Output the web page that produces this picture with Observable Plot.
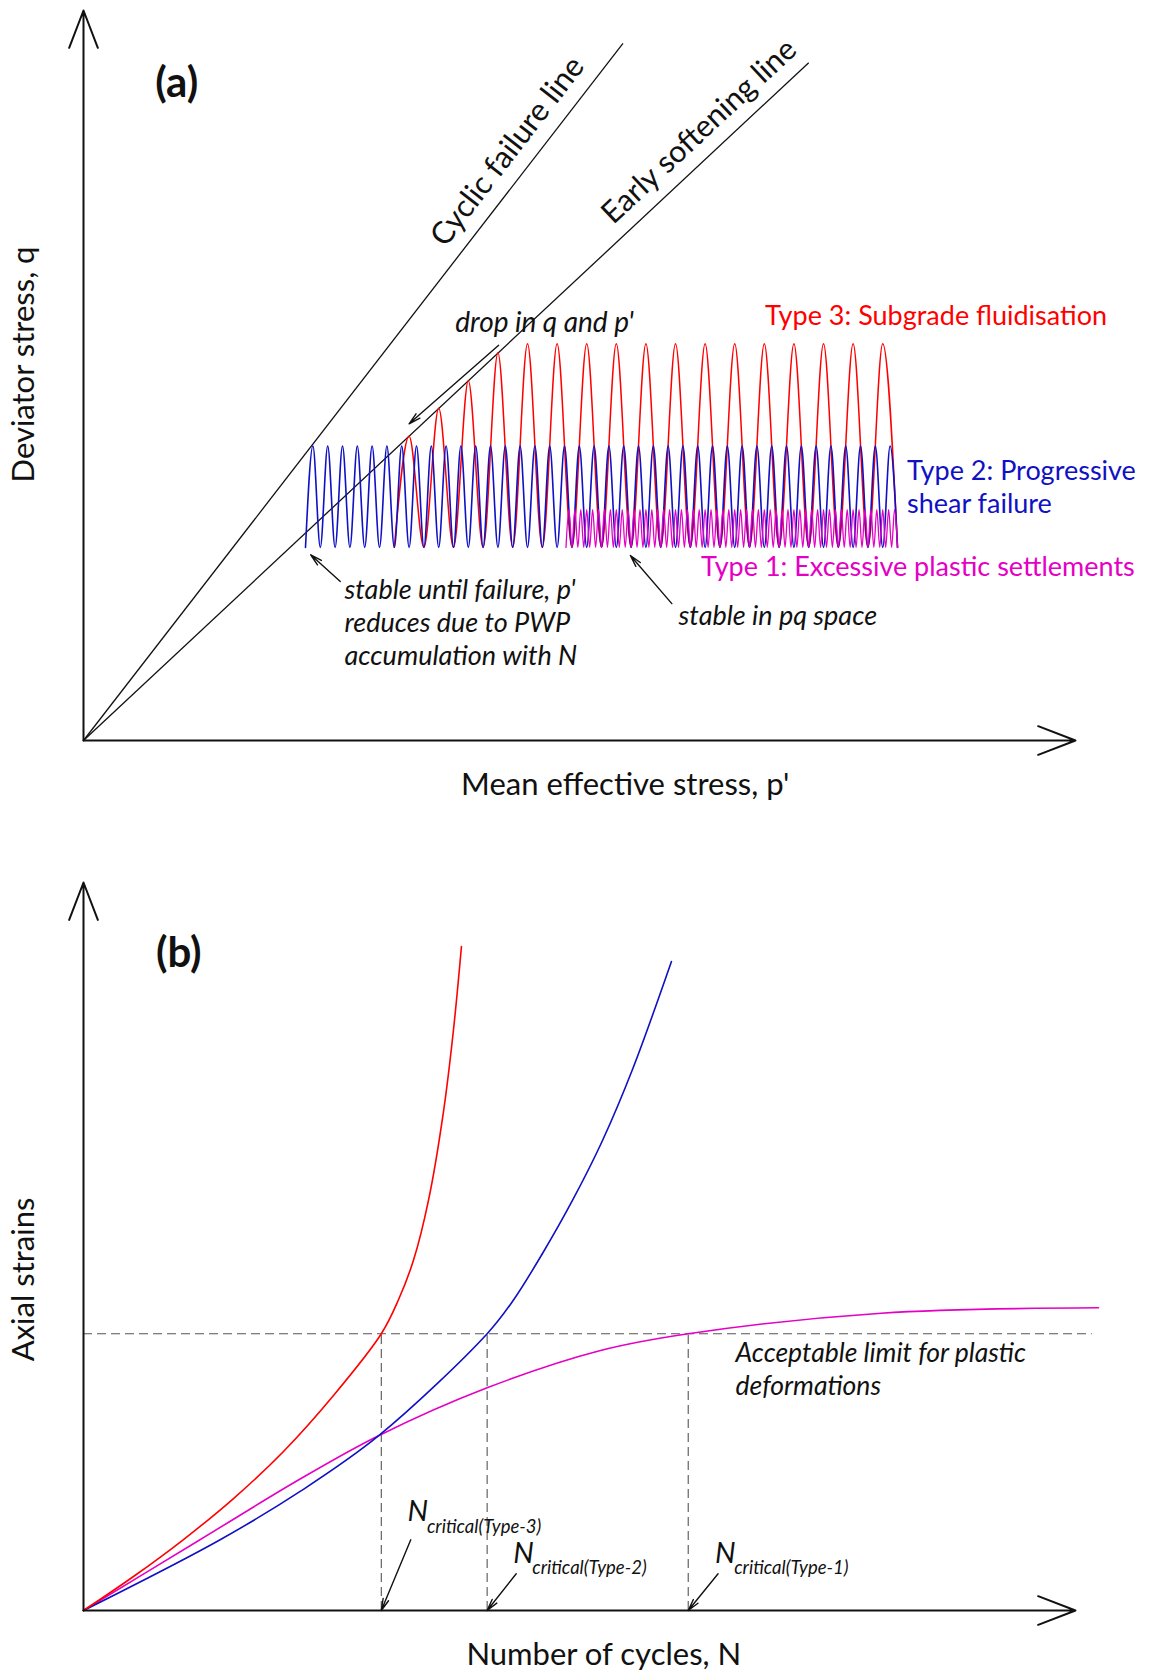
<!DOCTYPE html>
<html><head><meta charset="utf-8">
<script src="https://cdn.jsdelivr.net/npm/d3@7"></script>
<script src="https://cdn.jsdelivr.net/npm/@observablehq/plot@0.6"></script>
<style>body{margin:0;background:#fff;} #chart svg{display:block;}</style>
</head><body><div id="chart"></div>
<script>
// ---------------- DATA: panel (a) p'-q space (arbitrary units) ----------------
const failureLines = [
  {name: "Cyclic failure line", p: 72.9, q: 94.2},
  {name: "Early softening line", p: 98.0, q: 91.6}
];
// Type 2 (progressive shear failure) : turning points of the stress path
const blueX = [30,31,32,33,34,35,36,37,38,39,40,41,42,43,44,45,46,47,48,49,50,51,52,53,54,55,56,57,58,59,60,61,62,63,64,65,66,67,68,69,70,71,72,73,74,75,76,77,78,79,80,81,82,83,84,85,86,87,88,89,90,91,92,93,94,95,96,97,98,99,100,101,102,103,104,105,106,107,108,109,110];
const blueLow = 26.1, blueHigh = 39.8;
// Type 3 (subgrade fluidisation)
const redX = [42,44,46,48,50,52,54,56,58,60,62,64,66,68,70,72,74,76,78,80,82,84,86,88,90,92,94,96,98,100,102,104,106,108,110];
const redLow = 26.1;
const redPeaks = [41.1,44.9,48.6,52.4,53.6,53.6,53.6,53.6,53.6,53.6,53.6,53.6,53.6,53.6,53.6,53.6,53.6];
// Type 1 (excessive plastic settlements)
const magentaX = [65.2,65.6,66,66.4,66.8,67.2,67.6,68,68.4,68.8,69.2,69.6,70,70.4,70.8,71.2,71.6,72,72.4,72.8,73.2,73.6,74,74.4,74.8,75.2,75.6,76,76.4,76.8,77.2,77.6,78,78.4,78.8,79.2,79.6,80,80.4,80.8,81.2,81.6,82,82.4,82.8,83.2,83.6,84,84.4,84.8,85.2,85.6,86,86.4,86.8,87.2,87.6,88,88.4,88.8,89.2,89.6,90,90.4,90.8,91.2,91.6,92,92.4,92.8,93.2,93.6,94,94.4,94.8,95.2,95.6,96,96.4,96.8,97.2,97.6,98,98.4,98.8,99.2,99.6,100,100.4,100.8,101.2,101.6,102,102.4,102.8,103.2,103.6,104,104.4,104.8,105.2,105.6,106,106.4,106.8,107.2,107.6,108,108.4,108.8,109.2,109.6,110];
const magentaLow = 26.1, magentaHigh = 31.2;
const axisEndA = {p: 134.05, q: 98.65};

// ---------------- DATA: panel (b) N - axial strain ----------------
const redCurveN   = [0,5.04,10.08,15.12,20.16,25.20,30.02,31.72,33.27,34.78,36.29,37.30,38.10];
const redCurveE   = [0,4.67,9.75,15.38,21.84,29.53,38.01,42.58,48.13,56.37,68.54,79.81,91.21];
const blueCurveN  = [0,13.64,21.88,29.79,40.69,43.31,46.27,49.29,52.32,55.34,59.27];
const blueCurveE  = [0,9.62,16.39,24.04,38.01,42.58,49.04,56.32,64.56,74.31,89.15];
const magCurveN   = [0,11.62,21.88,29.79,40.69,52.12,60.96,80.41,102.32];
const magCurveE   = [0,9.62,18.09,24.04,30.59,35.71,38.01,40.84,41.58];
const acceptableLimit = 38.01;
const limitEndN = 101.7;
const criticalN = [30.02, 40.69, 60.96];
const criticalNames = ["critical(Type-3)", "critical(Type-2)", "critical(Type-1)"];
const axisEndB = {n: 100, e: 100};

// ---------------- STYLE ----------------
const FONT = "Lato, 'Open Sans', 'DejaVu Sans', sans-serif";
const RED = "#ff0000", BLUE = "#1010c4", MAG = "#e400c4", INK = "#111";

const wave = (xs, low, highs) => xs.map((p, i) => ({p, q: i % 2 === 0 ? low : (Array.isArray(highs) ? highs[(i - 1) / 2] : highs)}));
const curve = (ns, es) => ns.map((n, i) => ({n, e: es[i]}));

const txt = (d, o) => Plot.text([d], {x: "x", y: "y", text: "t", fontFamily: FONT, fill: INK, ...o});

// ---------------- PANEL (a) ----------------
const figA = Plot.plot({
  width: 1150, height: 820, margin: 0,
  x: {domain: [0, axisEndA.p], range: [83, 1075], axis: null},
  y: {domain: [0, 100], range: [740, 0], axis: null},
  style: {background: "white", fontFamily: FONT},
  marks: [
    Plot.link(failureLines, {x1: 0, y1: 0, x2: "p", y2: "q", stroke: INK, strokeWidth: 1.3}),
    Plot.line(wave(redX, redLow, redPeaks), {x: "p", y: "q", stroke: RED, strokeWidth: 1.5, curve: "monotone-x"}),
    Plot.line(wave(blueX, blueLow, blueHigh), {x: "p", y: "q", stroke: BLUE, strokeWidth: 1.6, curve: "monotone-x"}),
    Plot.line(wave(magentaX, magentaLow, magentaHigh), {x: "p", y: "q", stroke: MAG, strokeWidth: 1.3, curve: "monotone-x"}),
    Plot.arrow([{x1: 0, y1: 0, x2: 0, y2: axisEndA.q}, {x1: 0, y1: 0, x2: axisEndA.p, y2: 0}],
      {x1: "x1", y1: "y1", x2: "x2", y2: "y2", stroke: INK, strokeWidth: 2, headLength: 30, headAngle: 42}),
    Plot.arrow([
        {x1: 56.1, y1: 53.4, x2: 44.0, y2: 42.8},
        {x1: 34.7, y1: 21.5, x2: 30.7, y2: 25.1},
        {x1: 79.5, y1: 18.5, x2: 73.9, y2: 25.0}
      ], {x1: "x1", y1: "y1", x2: "x2", y2: "y2", stroke: INK, strokeWidth: 1.4, headLength: 13, headAngle: 28}),
    txt({t: "(a)", x: 12.6, y: 88.78}, {fontSize: 42, fontWeight: "bold", textAnchor: "middle", lineAnchor: "middle"}),
    txt({t: failureLines[0].name, x: 57.3, y: 79.6}, {fontSize: 31, rotate: -52.3, textAnchor: "middle", lineAnchor: "middle"}),
    txt({t: failureLines[1].name, x: 83.2, y: 82.3}, {fontSize: 30.5, rotate: -43.1, textAnchor: "middle", lineAnchor: "middle"}),
    txt({t: "drop in q and p'", x: 62.3, y: 56.35}, {fontSize: 28, fontStyle: "italic", textAnchor: "middle", lineAnchor: "middle"}),
    txt({t: "stable until failure, p'", x: 35.27, y: 20.34}, {fontSize: 27, fontStyle: "italic", textAnchor: "start", lineAnchor: "middle"}),
    txt({t: "reduces due to PWP", x: 35.27, y: 15.88}, {fontSize: 27, fontStyle: "italic", textAnchor: "start", lineAnchor: "middle"}),
    txt({t: "accumulation with N", x: 35.27, y: 11.41}, {fontSize: 27, fontStyle: "italic", textAnchor: "start", lineAnchor: "middle"}),
    txt({t: "stable in pq space", x: 80.41, y: 16.76}, {fontSize: 27, fontStyle: "italic", textAnchor: "start", lineAnchor: "middle"}),
    txt({t: "Type 3: Subgrade fluidisation", x: 92.09, y: 57.3}, {fontSize: 27, fill: RED, textAnchor: "start", lineAnchor: "middle"}),
    txt({t: "Type 2: Progressive", x: 111.28, y: 36.35}, {fontSize: 27, fill: BLUE, textAnchor: "start", lineAnchor: "middle"}),
    txt({t: "shear failure", x: 111.28, y: 31.89}, {fontSize: 27, fill: BLUE, textAnchor: "start", lineAnchor: "middle"}),
    txt({t: "Type 1: Excessive plastic settlements", x: 83.45, y: 23.38}, {fontSize: 27, fill: MAG, textAnchor: "start", lineAnchor: "middle"}),
    txt({t: "Deviator stress, q", x: -8.04, y: 50.81}, {fontSize: 31, rotate: -90, textAnchor: "middle", lineAnchor: "middle"}),
    txt({t: "Mean effective stress, p'", x: 73.2, y: -6.08}, {fontSize: 31, textAnchor: "middle", lineAnchor: "middle"})
  ]
});

// ---------------- PANEL (b) ----------------
const nLabel = [
  {nx: 32.66, ny: 12.36, sx: 34.62, sy: 10.71},
  {nx: 43.31, ny: 6.46, sx: 45.24, sy: 4.95},
  {nx: 63.67, ny: 6.46, sx: 65.59, sy: 4.95}
];
const nArrows = [
  {x1: 32.99, y1: 9.71, x2: criticalN[0], y2: 0},
  {x1: 43.62, y1: 5.04, x2: criticalN[1], y2: 0},
  {x1: 63.97, y1: 5.04, x2: criticalN[2], y2: 0}
];
const figB = Plot.plot({
  width: 1150, height: 855, margin: 0,
  x: {domain: [0, axisEndB.n], range: [83, 1075], axis: null},
  y: {domain: [0, axisEndB.e], range: [790, 62], axis: null},
  style: {background: "white", fontFamily: FONT},
  marks: [
    Plot.ruleY([acceptableLimit], {x1: 0, x2: limitEndN, stroke: "#555", strokeWidth: 1.1, strokeDasharray: "9,5"}),
    Plot.ruleX(criticalN, {y1: 0, y2: acceptableLimit, stroke: "#555", strokeWidth: 1.1, strokeDasharray: "9,5"}),
    Plot.line(curve(magCurveN, magCurveE), {x: "n", y: "e", stroke: MAG, strokeWidth: 1.6, curve: "catmull-rom"}),
    Plot.line(curve(blueCurveN, blueCurveE), {x: "n", y: "e", stroke: BLUE, strokeWidth: 1.6, curve: "catmull-rom"}),
    Plot.line(curve(redCurveN, redCurveE), {x: "n", y: "e", stroke: RED, strokeWidth: 1.6, curve: "catmull-rom"}),
    Plot.arrow([{x1: 0, y1: 0, x2: 0, y2: axisEndB.e}, {x1: 0, y1: 0, x2: axisEndB.n, y2: 0}],
      {x1: "x1", y1: "y1", x2: "x2", y2: "y2", stroke: INK, strokeWidth: 2, headLength: 30, headAngle: 42}),
    Plot.arrow(nArrows, {x1: "x1", y1: "y1", x2: "x2", y2: "y2", stroke: INK, strokeWidth: 1.4, headLength: 13, headAngle: 28}),
    ...nLabel.map((d, i) => txt({t: "N", x: d.nx, y: d.ny}, {fontSize: 29, fontStyle: "italic", textAnchor: "start", lineAnchor: "bottom"})),
    ...nLabel.map((d, i) => txt({t: criticalNames[i], x: d.sx, y: d.sy}, {fontSize: 18.5, fontStyle: "italic", textAnchor: "start", lineAnchor: "bottom"})),
    txt({t: "Acceptable limit for plastic", x: 65.73, y: 34.11}, {fontSize: 26.5, fontStyle: "italic", textAnchor: "start", lineAnchor: "bottom"}),
    txt({t: "deformations", x: 65.73, y: 29.67}, {fontSize: 26.5, fontStyle: "italic", textAnchor: "start", lineAnchor: "bottom"}),
    txt({t: "(b)", x: 9.6, y: 90.25}, {fontSize: 42, fontWeight: "bold", textAnchor: "middle", lineAnchor: "middle"}),
    txt({t: "Axial strains", x: -6.0, y: 45.47}, {fontSize: 31, rotate: -90, textAnchor: "middle", lineAnchor: "middle"}),
    txt({t: "Number of cycles, N", x: 52.45, y: -6.18}, {fontSize: 31, textAnchor: "middle", lineAnchor: "middle"})
  ]
});

const root = document.getElementById("chart");
root.appendChild(figA);
root.appendChild(figB);
</script></body></html>
